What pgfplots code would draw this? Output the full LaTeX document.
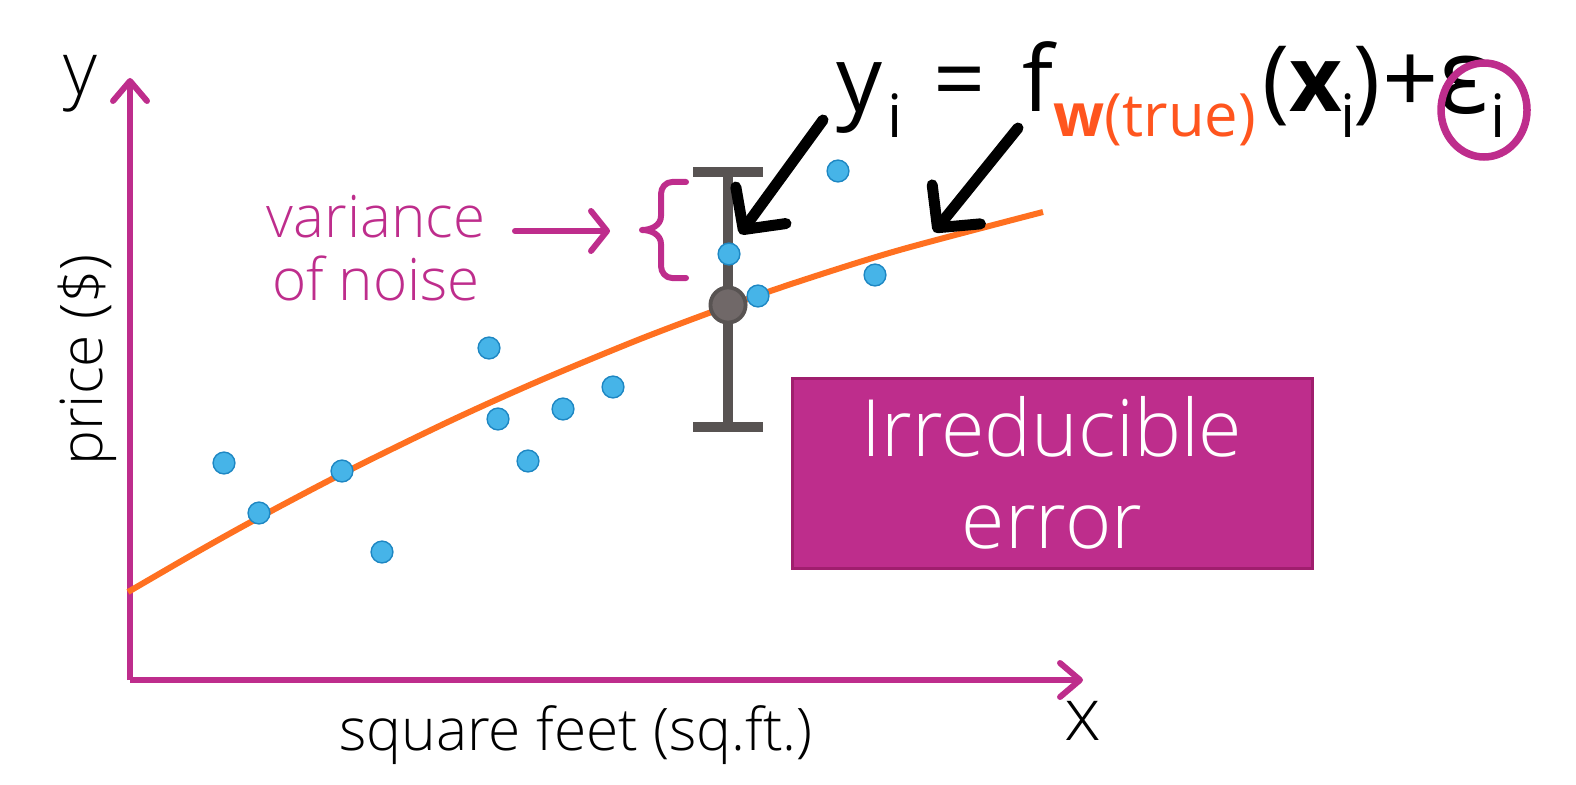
\documentclass[border=0pt]{standalone}
\usepackage{fontspec}
\IfFontExistsTF{Open Sans Light}{\setmainfont{Open Sans Light}[BoldFont={Open Sans Bold}]}{\setmainfont{Open Sans}}
\newfontfamily\eqfont{Open Sans}
\usepackage{pgfplots}
\pgfplotsset{compat=1.18}
\usetikzlibrary{arrows.meta}
\definecolor{mag}{RGB}{190,45,140}
\definecolor{magdark}{RGB}{160,30,110}
\definecolor{curve}{RGB}{255,112,32}
\definecolor{pt}{RGB}{70,180,232}
\definecolor{ptdark}{RGB}{30,135,195}
\definecolor{bar}{RGB}{88,83,82}
\definecolor{dot}{RGB}{112,104,104}
\definecolor{wcol}{RGB}{255,85,30}
\newcommand{\fs}[1]{\fontsize{#1}{#1}\selectfont}
\begin{document}
\begin{tikzpicture}
\begin{axis}[
  scale only axis, width=9.53cm, height=6.02cm,
  xmin=130, xmax=1083, ymin=104, ymax=706,
  axis lines*=left, xtick=\empty, ytick=\empty,
  axis line style={draw=mag, line width=0.06cm, -{Straight Barb[length=0.2cm,width=0.34cm,round]}},
  x axis line style={line width=0.06cm},
  y axis line style={line width=0.06cm},
  clip=false,
]
\path (axis cs:0,0) rectangle (axis cs:1576,784);
% curve
\addplot[curve, line width=0.06cm, smooth, no marks] coordinates {
 (128,192) (200,233.7) (260,267) (345,311.7) (450,363) (540,403.5) (640,444.9) (728,478) (800,502.9) (900,534.1) (1043,572)};
% data points
\addplot[only marks, mark=*, mark size=3.1pt, mark options={fill=pt, draw=ptdark, line width=0.4pt}] coordinates {
 (224,321) (259,271) (342,313) (382,232) (489,436) (498,365) (528,323) (563,375) (613,397) (729,530) (758,488) (838,613) (875,509)};
% error bar
\addplot[bar, line width=0.1cm, no marks] coordinates {(728,357) (728,612)};
\addplot[bar, line width=0.1cm, no marks] coordinates {(693,612) (763,612)};
\addplot[bar, line width=0.1cm, no marks] coordinates {(693,357) (763,357)};
\addplot[only marks, mark=*, mark size=5.0pt, mark options={fill=dot, draw=bar, line width=1.1pt}] coordinates {(728,479)};
% brace
\draw[mag, line width=0.06cm, line cap=round, line join=round]
 (axis cs:686,602) -- (axis cs:672,602) to[out=180,in=90] (axis cs:661,590) -- (axis cs:661,568)
 to[out=-90,in=0] (axis cs:642,554) to[out=0,in=90] (axis cs:661,540) -- (axis cs:661,518)
 to[out=-90,in=180] (axis cs:672,506) -- (axis cs:686,506);
% magenta arrow
\draw[mag, line width=0.06cm, line cap=round, -{Straight Barb[length=0.16cm,width=0.4cm,round]}] (axis cs:515,553) -- (axis cs:610,553);
% black arrows
\draw[black, line width=0.11cm, line cap=round, -{Straight Barb[length=0.3cm,width=0.62cm,round]}] (axis cs:823,664) -- (axis cs:740,550);
\draw[black, line width=0.11cm, line cap=round, -{Straight Barb[length=0.3cm,width=0.62cm,round]}] (axis cs:1018,656) -- (axis cs:934,552);
% box
\draw[fill=mag, draw=magdark, line width=0.03cm] (axis cs:792,406) rectangle (axis cs:1312,216);
\node[white, align=center, font=\fontsize{22.5}{26}\selectfont] at (axis cs:1052,311) {Irreducible\\error};
% labels
\node[anchor=base, font=\fs{21}] at (axis cs:80,689) {y};
\node[anchor=base, font=\fs{21}] at (axis cs:1083,44) {x};
\node[anchor=base, font=\fs{16.7}] at (axis cs:576,34) {square feet (sq.ft.)};
\node[rotate=90, font=\fs{16.7}] at (axis cs:87,424) {price (\$)};
\node[mag, align=center, font=\fontsize{16.6}{18}\selectfont] at (axis cs:376,536) {variance\\of noise};
% equation
\begin{scope}[every node/.style={anchor=base west, inner sep=0pt}]
\node[font=\eqfont\fs{26}] at (axis cs:836,672) {y};
\node[font=\eqfont\fs{17}] at (axis cs:887,646) {i};
\node[font=\eqfont\fs{26}] at (axis cs:933,672) {=};
\node[font=\eqfont\fs{26}] at (axis cs:1022,672) {f};
\node[font=\eqfont\fs{17}, text=wcol] at (axis cs:1053,647) {\textbf{w}(true)};
\node[font=\eqfont\fs{26}] at (axis cs:1262,672) {(\textbf{x}};
\node[font=\eqfont\fs{17}] at (axis cs:1340,646) {i};
\node[font=\eqfont\fs{26}] at (axis cs:1353,672) {)};
\node[font=\eqfont\fs{28}] at (axis cs:1382,670) {+};
\node[font=\eqfont\fs{30}] at (axis cs:1438,670) {ε};
\node[font=\eqfont\fs{17}] at (axis cs:1490,646) {i};
\end{scope}
\draw[mag, line width=0.075cm] (axis cs:1484,674) ellipse [x radius=0.43cm, y radius=0.47cm];
\end{axis}
\end{tikzpicture}
\end{document}
